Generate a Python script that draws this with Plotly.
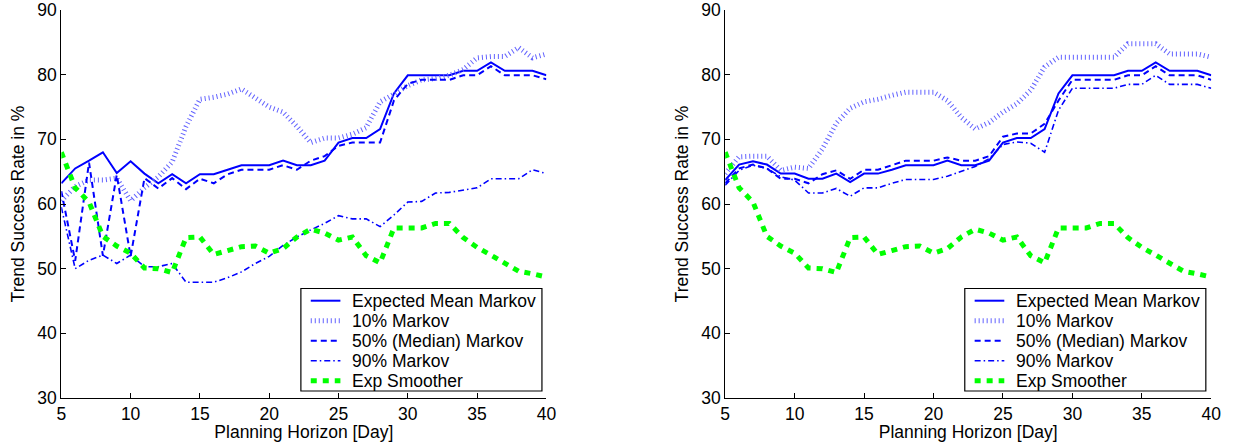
import plotly.graph_objects as go

# Planning horizon in days
horizon = list(range(5, 41))

# Left panel: trend success rate (%)
mean_left = [63.2, 65.5, 66.7, 68.0, 64.8, 66.6, 64.7, 63.2, 64.6, 63.2, 64.6, 64.6,
             65.3, 66.0, 66.0, 66.0, 66.7, 66.0, 66.0, 66.7, 69.5, 70.2, 70.2, 71.6,
             77.1, 79.9, 79.9, 79.9, 79.9, 80.6, 80.6, 81.9, 80.6, 80.6, 80.6, 79.9]
p10_left = [60.5, 62.7, 63.7, 63.7, 64.0, 60.5, 62.5, 64.2, 66.5, 72.0, 76.2, 76.5,
            77.0, 77.8, 76.4, 75.0, 74.2, 72.0, 69.5, 70.2, 70.2, 70.8, 71.8, 75.8,
            77.0, 78.3, 79.2, 79.4, 79.9, 80.8, 82.6, 82.8, 82.8, 84.2, 82.6, 83.2]
median_left = [62.0, 51.2, 66.4, 52.0, 64.5, 51.9, 64.0, 62.4, 64.0, 62.3, 63.9, 63.2,
               64.6, 65.3, 65.3, 65.3, 66.0, 65.3, 66.7, 67.4, 69.0, 69.5, 69.5, 69.5,
               76.0, 78.6, 79.2, 79.2, 79.2, 79.9, 79.9, 81.3, 79.9, 79.9, 79.9, 79.3]
p90_left = [59.5, 50.0, 51.3, 52.1, 50.8, 52.1, 50.3, 50.3, 50.8, 47.9, 47.9, 47.9,
            48.6, 49.5, 50.8, 51.9, 53.6, 54.9, 56.0, 57.0, 58.2, 57.7, 57.7, 56.5,
            58.3, 60.3, 60.4, 61.7, 61.8, 62.2, 62.5, 63.9, 63.9, 63.9, 65.3, 64.7]

# Right panel: trend success rate (%)
mean_right = [63.7, 66.1, 66.6, 66.1, 64.7, 64.7, 63.9, 63.9, 64.7, 63.4, 64.7, 64.7,
              65.3, 66.0, 66.0, 66.0, 66.7, 66.0, 66.0, 66.7, 69.5, 70.2, 70.2, 71.6,
              77.1, 79.9, 79.9, 79.9, 79.9, 80.6, 80.6, 81.9, 80.6, 80.6, 80.6, 79.9]
p10_right = [64.7, 67.3, 67.4, 67.4, 65.2, 65.7, 65.5, 68.5, 72.5, 74.8, 75.8, 76.2,
             76.8, 77.3, 77.3, 77.3, 76.0, 73.4, 71.6, 72.6, 74.2, 75.5, 77.6, 81.2,
             82.7, 82.7, 82.7, 82.7, 82.7, 84.8, 84.8, 84.8, 83.2, 83.2, 83.2, 82.7]
median_right = [63.2, 65.5, 66.1, 65.5, 63.9, 63.9, 63.2, 64.6, 65.2, 63.9, 65.3, 65.3,
                66.0, 66.7, 66.7, 66.7, 67.2, 66.7, 66.7, 67.4, 70.4, 70.9, 70.9, 72.4,
                76.0, 79.2, 79.2, 79.2, 79.2, 79.9, 79.9, 81.3, 79.9, 79.9, 79.9, 79.2]
p90_right = [62.9, 65.2, 66.0, 65.5, 64.2, 63.7, 61.7, 61.7, 62.4, 61.2, 62.5, 62.5,
             63.2, 63.8, 63.8, 63.8, 64.3, 65.0, 65.8, 67.0, 69.2, 69.6, 69.4, 68.0,
             74.5, 77.9, 77.9, 77.9, 77.9, 78.5, 78.5, 79.9, 78.5, 78.5, 78.5, 77.9]

# Exponential smoother baseline (same in both panels)
exp_smoother = [68.0, 62.5, 60.3, 55.0, 53.5, 52.4, 50.1, 50.0, 49.4, 54.8, 54.9, 52.2,
                52.8, 53.4, 53.5, 52.4, 53.1, 54.9, 56.1, 55.5, 54.4, 54.9, 52.0, 50.9,
                56.3, 56.3, 56.3, 57.0, 57.0, 54.8, 53.3, 52.1, 50.8, 49.6, 49.2, 48.7]

series_names = ["Expected Mean Markov", "10% Markov", "50% (Median) Markov",
                "90% Markov", "Exp Smoother"]

styles = [
    dict(color="#0000ff", width=2, dash="solid"),
    dict(color="#6262ff", width=5, dash="1px,3px"),
    dict(color="#0000ff", width=2, dash="6px,4px"),
    dict(color="#0000ff", width=1.6, dash="6px,3px,1.5px,3px"),
    dict(color="#00ff00", width=5, dash="6px,6px"),
]

panels = [
    ("x", "y", [mean_left, p10_left, median_left, p90_left, exp_smoother]),
    ("x2", "y2", [mean_right, p10_right, median_right, p90_right, exp_smoother]),
]

fig = go.Figure()
for xa, ya, data in panels:
    for name, vals, st in zip(series_names, data, styles):
        fig.add_trace(go.Scatter(
            x=horizon, y=vals, mode="lines", name=name,
            line=dict(color=st["color"], width=st["width"], dash=st["dash"]),
            xaxis=xa, yaxis=ya, showlegend=False,
        ))

W, H = 1243, 442
M_TOP, M_BOT = 10, 44
PLOT_H = H - M_TOP - M_BOT
FONT_FAMILY = "Liberation Sans, Arial, sans-serif"
font = dict(family=FONT_FAMILY, size=17.5, color="#000000")


def px_x(px):
    return px / W


def px_y(py):
    return 1 - (py - M_TOP) / PLOT_H


# Boxed legend drawn in each panel's lower-right corner
def add_legend_box(left_px, top_px=288.5, bottom_px=391.0, row_h=20.0):
    right_px = left_px + 244
    fig.add_shape(type="rect", xref="paper", yref="paper", layer="above",
                  x0=px_x(left_px), x1=px_x(right_px),
                  y0=px_y(bottom_px), y1=px_y(top_px),
                  line=dict(color="#000000", width=1.2), fillcolor="#ffffff")
    for i, (name, st) in enumerate(zip(series_names, styles)):
        cy = top_px + 12.2 + i * row_h
        fig.add_shape(type="line", xref="paper", yref="paper", layer="above",
                      x0=px_x(left_px + 10), x1=px_x(left_px + 40),
                      y0=px_y(cy), y1=px_y(cy),
                      line=dict(color=st["color"], width=st["width"], dash=st["dash"]))
        fig.add_annotation(xref="paper", yref="paper", x=px_x(left_px + 50), y=px_y(cy),
                           text=name, showarrow=False, xanchor="left", yanchor="middle",
                           font=font)


axis_common = dict(
    showgrid=False, zeroline=False, showline=True, linecolor="#000000", linewidth=1,
    ticks="inside", ticklen=5, tickcolor="#000000", tickfont=font, mirror=False,
)

fig.update_layout(
    width=W, height=H,
    margin=dict(l=0, r=0, t=M_TOP, b=M_BOT),
    paper_bgcolor="#ffffff", plot_bgcolor="#ffffff",
    font=font,
    showlegend=False,
    xaxis=dict(domain=[57 / W, 548 / W], range=[5, 40], dtick=5, anchor="y",
               title=dict(text="Planning Horizon [Day]", font=font, standoff=2), **axis_common),
    yaxis=dict(domain=[0, 1], range=[30, 90], dtick=10, anchor="x",
               title=dict(text="Trend Success Rate in %", font=font, standoff=8), **axis_common),
    xaxis2=dict(domain=[729 / W, 1221 / W], range=[5, 40], dtick=5, anchor="y2",
                title=dict(text="Planning Horizon [Day]", font=font, standoff=2), **axis_common),
    yaxis2=dict(domain=[0, 1], range=[30, 90], dtick=10, anchor="x2",
                title=dict(text="Trend Success Rate in %", font=font, standoff=8), **axis_common),
)

add_legend_box(299.5)
add_legend_box(971.5)

fig.write_html("out.html")
